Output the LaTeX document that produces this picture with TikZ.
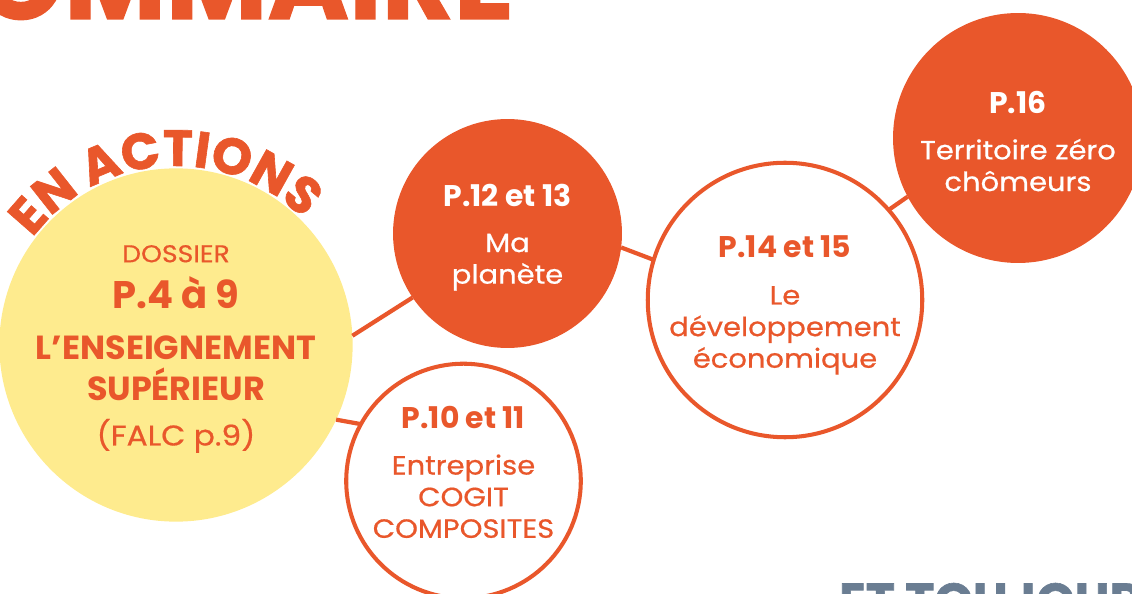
\documentclass[tikz,border=0pt]{standalone}
\usepackage{fontspec}
\setmainfont{Poppins}[UprightFeatures={FakeStretch=1.1,FakeBold=0.6}]
\newfontfamily\lourd{Poppins}[BoldFeatures={FakeBold=1.2}]
\usetikzlibrary{decorations.text}
\definecolor{brique}{HTML}{E9572B}
\definecolor{soleil}{HTML}{FEEB8E}
\definecolor{ardoise}{HTML}{6A7D92}
\newcommand\pnum[2][12pt]{{\bfseries\fontsize{17}{18}\selectfont\rule{0pt}{#1}#2}}
\begin{document}
\begin{tikzpicture}[x=0.02cm,y=-0.02cm,
  bulle/.style={circle,inner sep=0pt,outer sep=0pt,align=center,
    font=\fontsize{15}{18}\selectfont},
  plein/.style={bulle,fill=brique,text=white},
  anneau/.style={bulle,draw=brique,line width=2.3pt,fill=white,text=brique},
  lien/.style={draw=brique,line width=2.4pt}]
  \clip (0,0) rectangle (1132,594);

  \node[anchor=base east,text=brique,font=\lourd\bfseries\fontsize{63}{63}\selectfont]
    (sommaire) at (520,19) {SOMMAIRE};
  \node[anchor=base west,text=ardoise,font=\lourd\bfseries\fontsize{28}{30}\selectfont]
    (toujours) at (833,618) {ET TOUJOURS};

  \node[bulle,fill=soleil,text=brique,minimum size=6.48cm,
    font=\fontsize{14.6}{23.2}\selectfont] (dossier) at (176,345)
    {{\fontsize{13.8}{18}\selectfont\rule{0pt}{14.3pt}DOSSIER}\\[3.2pt]
     {\bfseries\fontsize{21.9}{24}\selectfont P.4 à 9}\\[6pt]
     {\bfseries\fontsize{19}{24}\selectfont L’ENSEIGNEMENT}\\
     {\bfseries\fontsize{19}{24}\selectfont SUPÉRIEUR}\\[2.3pt]
     {\fontsize{16.2}{18}\selectfont (FALC p.9)}};

  \node[plein,minimum size=4.58cm] (p12) at (507.5,233.5)
    {\pnum[17pt]{P.12 et 13}\\[8pt] Ma\\ planète};
  \node[anneau,minimum size=4.66cm] (p10) at (463.5,481)
    {\pnum{P.10 et 11}\\[8pt] Entreprise\\ COGIT\\ COMPOSITES\rule[-10pt]{0pt}{10pt}};
  \node[anneau,minimum size=5.44cm] (p14) at (785,300)
    {\pnum[18pt]{P.14 et 15}\\[9pt] Le\\ développement\\ économique};
  \node[plein,minimum size=5cm] (p16) at (1018,138)
    {\pnum[16.5pt]{P.16}\\[8pt] Territoire zéro\\ chômeurs};

  \draw[lien] (dossier.3) -- (p12.214);
  \draw[lien] (dossier.-25) -- (p10.151);
  \draw[lien] (p12.-7) -- (p14.163);
  \draw[lien] (p14.41) -- (p16.208);

  \path[decorate,decoration={text along path,text align=center,text color=brique,
    text={|\lourd\bfseries\fontsize{29}{30}\selectfont|EN ACTIONS}}]
    ([shift={(-166:179)}]dossier.center) arc[start angle=-166,end angle=-22,radius=179];
\end{tikzpicture}
\end{document}
